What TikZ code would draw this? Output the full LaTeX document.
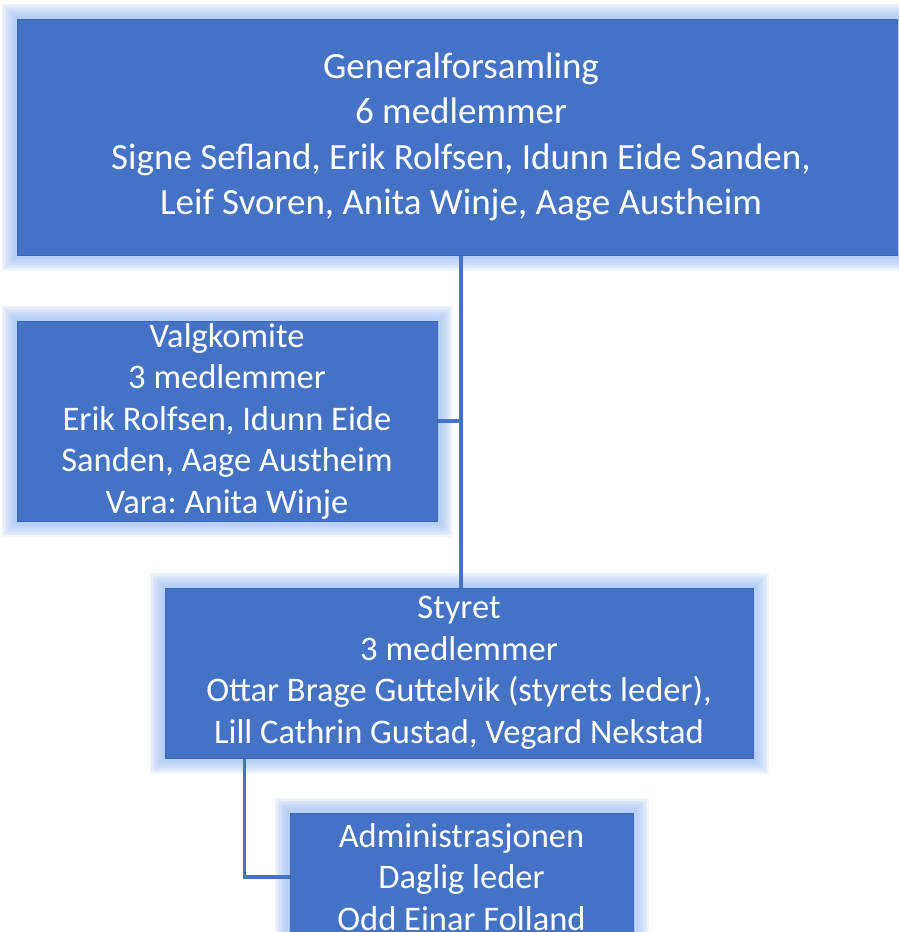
\documentclass[tikz,border=0pt]{standalone}
\usepackage{fontspec}
\setmainfont{Carlito}
\usetikzlibrary{backgrounds}
\frenchspacing
\definecolor{orgblue}{HTML}{4472C4}
\definecolor{orgedge}{HTML}{3B67B8}
\definecolor{orgglow}{HTML}{9DBDF3}
\tikzset{
 orgbox/.style={draw=orgedge,fill=orgblue,text=white,align=center,inner sep=0pt,line width=1pt},
 bigtext/.style={font=\fontsize{37}{45.5}\selectfont},
 smalltext/.style={font=\fontsize{34.5}{41.5}\selectfont},
 orgline/.style={draw=orgblue,line width=3.5pt},
}
\begin{document}
\begin{tikzpicture}[x=1pt,y=-1pt]
 \useasboundingbox (0,0) rectangle (898,932);
 \clip (0,0) rectangle (898,932);
 \node (gen) at (461,137) [orgbox,bigtext,minimum width=888pt,minimum height=236pt]
  {Generalforsamling\\6 medlemmer\\Signe Sefland, Erik Rolfsen, Idunn Eide Sanden,\\Leif Svoren, Anita Winje, Aage Austheim};
 \node (valg) at (227,421) [orgbox,smalltext,minimum width=420pt,minimum height=200pt]
  {Valgkomite\\3 medlemmer\\Erik Rolfsen, Idunn Eide\\Sanden, Aage Austheim\\Vara: Anita Winje};
 \node (styret) at (459,673) [orgbox,smalltext,minimum width=588pt,minimum height=170pt]
  {Styret\\3 medlemmer\\Ottar Brage Guttelvik (styrets leder),\\Lill Cathrin Gustad, Vegard Nekstad};
 \node (admin) at (461.5,877) [orgbox,smalltext,minimum width=343pt,minimum height=128pt]
  {Administrasjonen\\Daglig leder\\Odd Einar Folland};
 % soft glow round the boxes
 \begin{scope}[on background layer]
  \foreach \n in {gen,valg,styret,admin}
   \foreach \k in {1,...,10}
    \draw[orgglow,opacity=0.13,line width=\k*3pt] (\n.north west) rectangle (\n.south east);
 \end{scope}
 \draw[orgline] (gen.south) -- (gen.south |- styret.north);
 \draw[orgline] (valg.east) -- (valg.east -| gen.south);
 \draw[orgline] (styret.south west) ++(80,0) |- (admin.west);
\end{tikzpicture}
\end{document}
